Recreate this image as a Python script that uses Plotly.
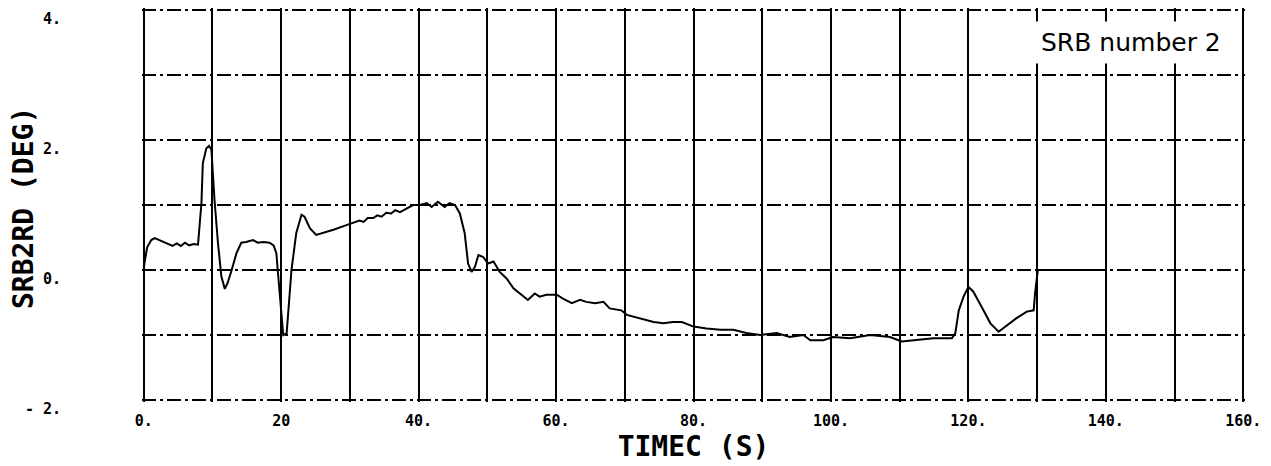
import plotly.graph_objects as go

# ---- data ----
time_s = [0, 0.1, 0.5, 1.1, 1.6, 2.8, 4.2, 4.8, 5.4, 6.0, 6.6, 7.3, 7.9,
          8.4, 8.6, 9.1, 9.5, 9.85, 10.3, 10.8, 11.3, 11.8, 12.2, 12.8, 13.5,
          14.2, 14.9, 15.9, 16.6, 17.4, 18.3, 18.9, 19.3, 19.5, 20.3, 20.8,
          21.5, 22.2, 22.96, 23.4, 24.2, 25.1, 26.1, 27.6, 29.5, 30.4, 31.4,
          32.0, 32.6, 33.4, 34.0, 34.6, 35.3, 36.0, 36.6, 37.3, 38.2, 39.2,
          40.2, 41.2, 41.9, 42.8, 43.8, 44.5, 45.3, 46.0, 46.7, 47.2, 47.7,
          48.2, 48.7, 49.4, 50.1, 50.9, 51.8, 52.8, 53.8, 54.7, 55.9, 56.9,
          57.6, 58.6, 60.1, 61.0, 62.3, 63.5, 64.4, 65.7, 66.9, 67.8, 69.5,
          70.3, 72.2, 74.2, 75.6, 77.0, 78.3, 80.0, 81.9, 83.9, 85.8, 87.7,
          89.7, 92.1, 94.0, 96.0, 97.0, 98.9, 100.3, 102.8, 105.7, 108.6,
          110.3, 112.5, 114.9, 117.6, 118.1, 118.6, 119.3, 120.0, 120.7,
          121.9, 123.2, 124.4, 125.6, 127.0, 128.5, 129.5, 129.7, 130.0,
          130.1, 140.0]
srb2rd_deg = [0.0, 0.1, 0.35, 0.46, 0.49, 0.43, 0.37, 0.41, 0.37, 0.42, 0.38,
              0.40, 0.39, 1.03, 1.64, 1.87, 1.91, 1.85, 1.08, 0.42, -0.10,
              -0.29, -0.20, 0.0, 0.26, 0.42, 0.43, 0.46, 0.42, 0.43, 0.42,
              0.38, 0.26, 0.0, -1.0, -0.97, 0.0, 0.57, 0.85, 0.82, 0.64, 0.54,
              0.57, 0.62, 0.69, 0.72, 0.76, 0.74, 0.80, 0.80, 0.84, 0.82, 0.88,
              0.87, 0.92, 0.89, 0.94, 1.0, 1.0, 1.03, 0.97, 1.05, 0.97, 1.03,
              1.0, 0.87, 0.57, 0.10, -0.03, 0.05, 0.23, 0.20, 0.10, 0.13,
              -0.03, -0.13, -0.28, -0.36, -0.46, -0.36, -0.41, -0.38, -0.38,
              -0.44, -0.51, -0.46, -0.49, -0.51, -0.49, -0.59, -0.62, -0.69,
              -0.74, -0.80, -0.82, -0.80, -0.80, -0.87, -0.90, -0.92, -0.92,
              -0.97, -1.0, -0.97, -1.03, -1.0, -1.08, -1.08, -1.03, -1.05,
              -1.0, -1.03, -1.10, -1.08, -1.05, -1.05, -0.97, -0.62, -0.41,
              -0.26, -0.33, -0.56, -0.82, -0.95, -0.85, -0.74, -0.64, -0.62,
              -0.36, -0.03, 0.0, 0.0]

x_tickvals = [0, 10, 20, 30, 40, 50, 60, 70, 80, 90, 100, 110, 120, 130, 140, 150, 160]
x_ticktext = ["0.", "", "20", "", "40.", "", "60.", "", "80.", "", "100.", "",
              "120.", "", "140.", "", "160."]
y_tickvals = [-2, -1, 0, 1, 2, 3, 4]
y_ticktext = ["- 2.", "", "0.", "", "2.", "", "4."]

x_title = "TIMEC (S)"
y_title = "SRB2RD (DEG)"
label_text = "SRB number 2"

mono = "DejaVu Sans Mono"

fig = go.Figure()
fig.add_trace(go.Scatter(x=time_s, y=srb2rd_deg, mode="lines",
                         line=dict(color="black", width=2), showlegend=False))

fig.add_annotation(x=143.7, y=3.5, xref="x", yref="y", text=label_text,
                   showarrow=False, bgcolor="white", borderpad=6,
                   font=dict(family="DejaVu Sans", size=25, color="black"))

# y-axis title drawn as a rotated annotation so it can sit close to the labels
fig.add_annotation(x=0, y=0.5, xref="paper", yref="paper", text=y_title,
                   textangle=-90, showarrow=False, xanchor="center",
                   yanchor="middle", xshift=-119, yshift=-3,
                   font=dict(family=mono, size=28, color="black", weight="bold"))

# the page body adds an 8px offset, so the figure is sized to fit inside it
fig.update_layout(
    width=1263, height=458,
    margin=dict(l=134, r=26, t=0, b=64),
    paper_bgcolor="white", plot_bgcolor="white",
    xaxis=dict(range=[-0.25, 160.25], tickmode="array", tickvals=x_tickvals,
               ticktext=x_ticktext, showgrid=True, gridcolor="black",
               gridwidth=2, zeroline=False, showline=False, ticks="",
               automargin=False, ticklabelstandoff=8, ticklabeloverflow="allow",
               tickfont=dict(family=mono, size=15, color="black", weight="bold"),
               title=dict(text=x_title, standoff=6,
                          font=dict(family=mono, size=28, color="black", weight="bold"))),
    yaxis=dict(range=[-2.03, 4.03], tickmode="array", tickvals=y_tickvals,
               ticktext=y_ticktext, showgrid=True, gridcolor="black",
               gridwidth=1.5, griddash="14px,4px,3px,4px", zeroline=False,
               showline=False, ticks="", automargin=False,
               ticklabelstandoff=80, ticklabelshift=9, ticklabeloverflow="allow",
               tickfont=dict(family=mono, size=15, color="black", weight="bold")),
)

fig.write_html("out.html")
